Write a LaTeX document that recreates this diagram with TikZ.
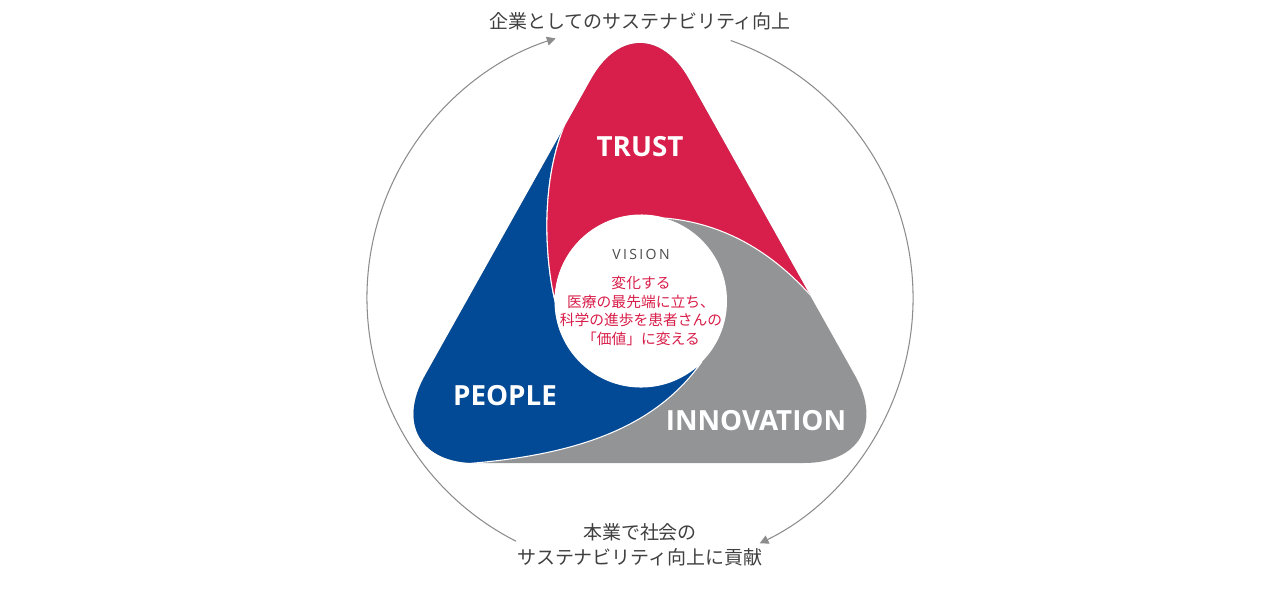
\documentclass[tikz,border=0pt]{standalone}
\usepackage{fontspec}
\setmainfont{Noto Sans CJK JP}
\newfontfamily\labelfont{Open Sans}
\usetikzlibrary{arrows.meta,calc}
\definecolor{trustred}{HTML}{D81E4A}
\definecolor{peopleblue}{HTML}{034A96}
\definecolor{innogray}{HTML}{939496}
\definecolor{ringgray}{HTML}{8C8C8C}
\tikzset{
  biglabel/.style={text=white,font=\labelfont\bfseries\fontsize{15.8}{19}\selectfont},
  note/.style={text=black!75,font=\fontsize{10.8}{14.5}\selectfont,align=center},
  ring/.style={ringgray,line width=0.6pt,-{Triangle[length=5pt,width=5pt]}}
}
\begin{document}
\begin{tikzpicture}[x=0.02cm,y=-0.02cm]
    \useasboundingbox (0,0) rectangle (1280,592);
    % outer ring arrows
    \coordinate (c) at (640,298);
    \draw[ring] ($(c)+(243:273 and -273)$) arc[start angle=243,end angle=108,x radius=273,y radius=-273];
    \draw[ring] ($(c)+(70.6:273 and -273)$) arc[start angle=70.6,end angle=-64,x radius=273,y radius=-273];
    % triangle
    \def\tri{(640,-8) -- (376,463) -- (904,463) -- cycle}
    \fill[innogray,rounded corners=2cm] \tri;
    \begin{scope}
        \clip[rounded corners=2cm] \tri;
        \fill[peopleblue,draw=white,line width=0.6pt] (566,122) .. controls (540,180) and (545,260) .. (555,301)
            arc[start angle=180,end angle=315,x radius=86,y radius=-86] .. controls (650,435) and (560,460) .. (430,466)
            -- (300,520) -- (300,100) -- cycle;
        \fill[trustred,draw=white,line width=0.6pt] (566,122) .. controls (540,180) and (545,260) .. (555,301)
            arc[start angle=180,end angle=75,x radius=86,y radius=-86] .. controls (740,224) and (800,270) .. (848,345)
            -- (1000,345) -- (1000,-100) -- (500,-100) -- (500,122) -- cycle;
    \end{scope}
    \fill[white] (641,301) circle[radius=86];
    % labels
    \node[biglabel] (trust) at (640,147) {TRUST};
    \node[biglabel] (people) at (505,396) {PEOPLE};
    \node[biglabel] (innovation) at (756,421) {INNOVATION};
    \node[text=black!70,font=\labelfont\fontsize{8}{10}\selectfont] (vision) at (641,254) {V\,I\,S\,I\,O\,N};
    \node[text=trustred,font=\fontsize{8.4}{10.6}\selectfont,align=center] (visiontext) at (641,311)
        {変化する\\医療の最先端に立ち、\\科学の進歩を患者さんの\\「価値」に変える};
    \node[note] (top) at (640,21) {企業としてのサステナビリティ向上};
    \node[note] (bottom) at (640,545) {本業で社会の\\サステナビリティ向上に貢献};
\end{tikzpicture}
\end{document}
